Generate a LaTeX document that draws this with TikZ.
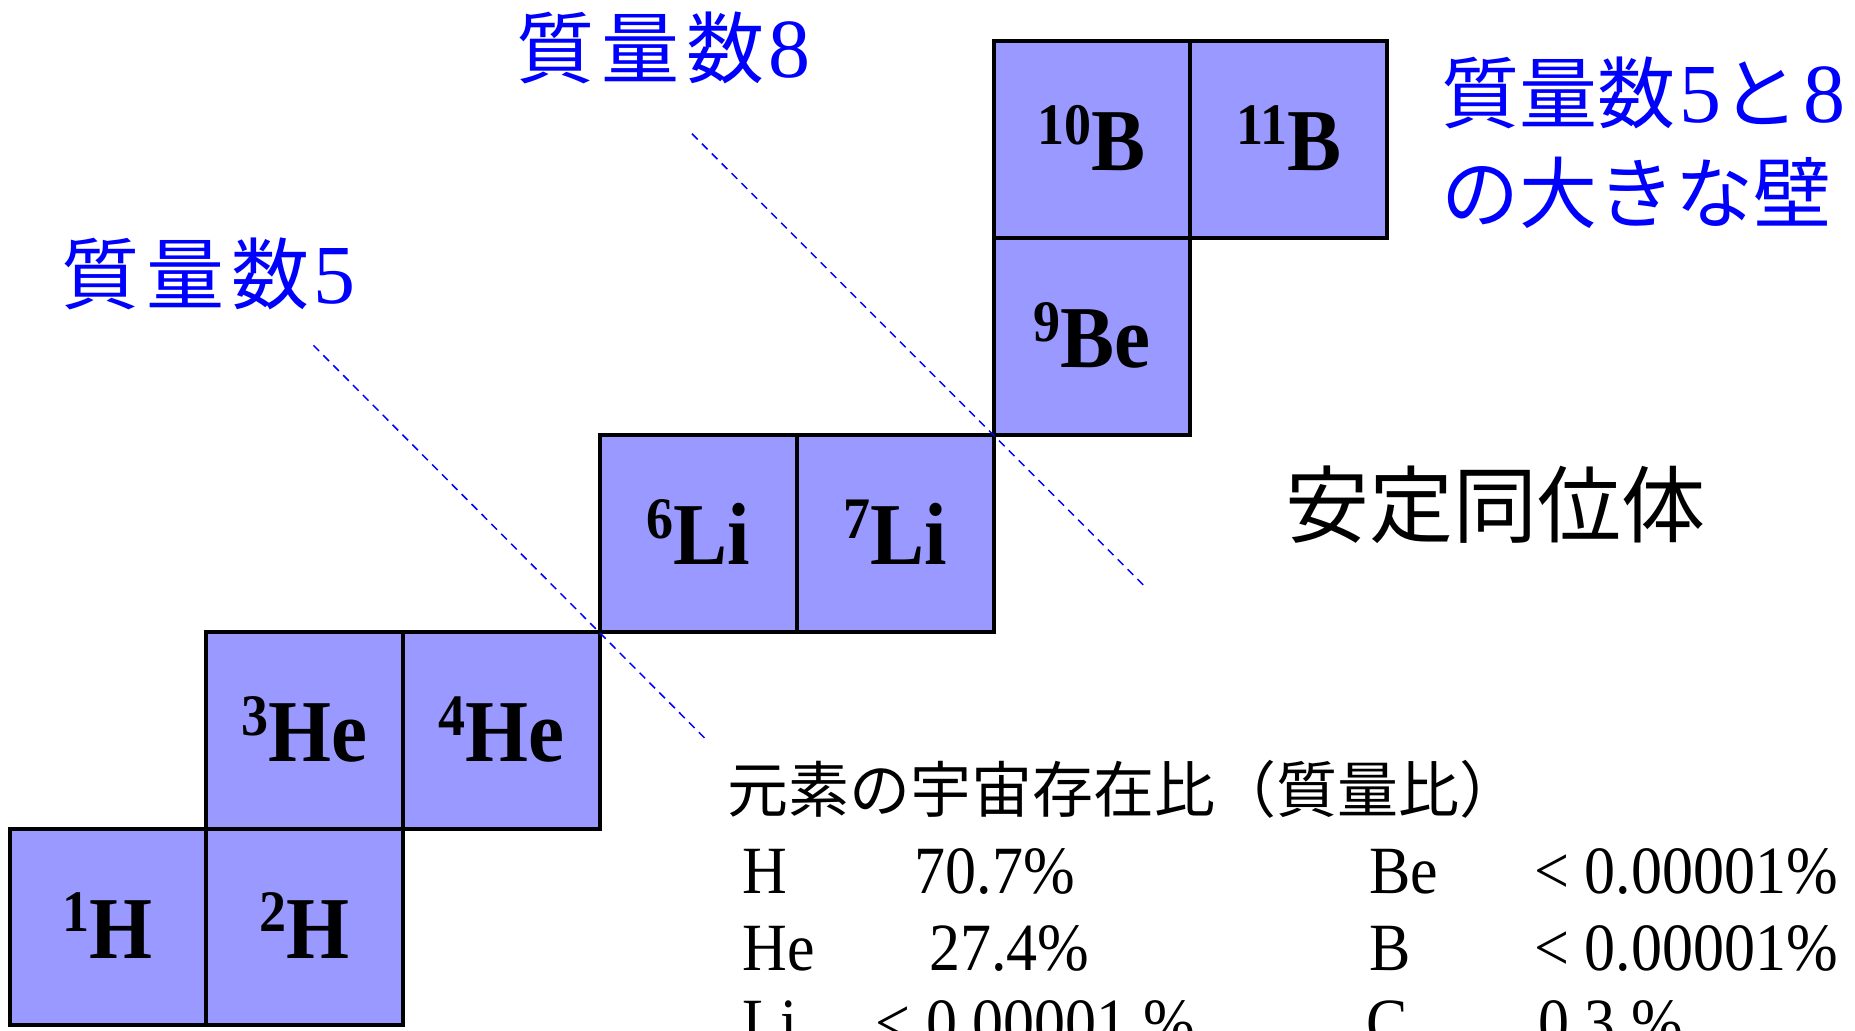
\documentclass[tikz,border=0pt]{standalone}
\usepackage{graphicx}
\usepackage{fontspec}
\setmainfont{Liberation Serif}
\newfontfamily\cjk{Noto Sans CJK JP}
\definecolor{cellfill}{HTML}{9999FF}
\newcommand\isolbl[2]{\scalebox{1}[1.09]{\raisebox{12pt}{\fontsize{27}{27}\selectfont #1}#2}}
\newcommand\tallt[1]{\scalebox{1}[1.09]{#1}}
\newcommand\serdig[1]{\kern2pt{\rmfamily\fontsize{42}{42}\selectfont #1}}
\tikzset{
  cell/.style={draw=black, line width=2pt, fill=cellfill, minimum width=98.4pt,
    minimum height=98.4pt, inner sep=0pt, outer sep=0pt},
  iso/.style={anchor=base, inner sep=0pt, font=\bfseries\fontsize{40.5}{40.5}\selectfont},
  wall/.style={draw=blue, line width=0.75pt, dash pattern=on 4pt off 3pt},
  bluetxt/.style={anchor=base west, inner sep=0pt, text=blue, font=\cjk\fontsize{39}{39}\selectfont},
  blacktxt/.style={anchor=base west, inner sep=0pt, text=black, font=\cjk\fontsize{42}{42}\selectfont},
  titletxt/.style={anchor=base west, inner sep=0pt, text=black, font=\cjk\fontsize{30.5}{30.5}\selectfont},
  tabtxt/.style={anchor=base west, inner sep=0pt, text=black, font=\fontsize{31}{31}\selectfont},
}
\begin{document}
\begin{tikzpicture}[x=0.5pt, y=-0.5pt]
\useasboundingbox (0,0) rectangle (1855,1030);
\begin{scope}
\clip (0,0) rectangle (1855,1030);
\fill[white] (0,0) rectangle (1855,1030);
% cells
\node[cell] (c1H)  at (107.9, 927.0) {};
\node[cell] (c2H)  at (304.7, 927.0) {};
\node[cell] (c3He) at (304.7, 730.2) {};
\node[cell] (c4He) at (501.5, 730.2) {};
\node[cell] (c6Li) at (698.3, 533.4) {};
\node[cell] (c7Li) at (895.1, 533.4) {};
\node[cell] (c9Be) at (1091.9, 336.6) {};
\node[cell] (c10B) at (1091.9, 139.8) {};
\node[cell] (c11B) at (1288.7, 139.8) {};
% labels
\node[iso] (l1H)  at ([yshift=-15.5pt]c1H.center)  {\isolbl{1}{H}};
\node[iso] (l2H)  at ([yshift=-15.5pt]c2H.center)  {\isolbl{2}{H}};
\node[iso] (l3He) at ([yshift=-15.5pt]c3He.center) {\isolbl{3}{He}};
\node[iso] (l4He) at ([yshift=-15.5pt]c4He.center) {\isolbl{4}{He}};
\node[iso] (l6Li) at ([yshift=-15.5pt]c6Li.center) {\isolbl{6}{Li}};
\node[iso] (l7Li) at ([yshift=-15.5pt]c7Li.center) {\isolbl{7}{Li}};
\node[iso] (l9Be) at ([yshift=-15.5pt]c9Be.center) {\isolbl{9}{Be}};
\node[iso] (l10B) at ([yshift=-15.5pt]c10B.center) {\isolbl{10}{B}};
\node[iso] (l11B) at ([yshift=-15.5pt]c11B.center) {\isolbl{11}{B}};
% walls
\coordinate (w5a) at (313.5, 345.4);
\coordinate (w5b) at (706, 739.4);
\coordinate (w8a) at (692, 133.7);
\coordinate (w8b) at (1144, 585.6);
\draw[wall] (w5a) -- (w5b);
\draw[wall] (w8a) -- (w8b);
% blue labels
\node[bluetxt] (m8) at (516, 77) {質\kern3.5pt量\kern3.5pt数\serdig{8}};
\node[bluetxt] (m5) at (61, 303) {質\kern3.5pt量\kern3.5pt数\serdig{5}};
\node[bluetxt] (mw1) at (1441, 122) {質量数\serdig{5}と\serdig{8}};
\node[bluetxt] (mw2) at (1441, 222) {の大きな壁};
% stable isotopes
\node[blacktxt] (stable) at (1285, 536) {安定同位体};
% abundance table
\node[titletxt] (title) at (727, 812) {元素の宇宙存在比（質量比）};
\node[tabtxt] (tH)   at (742, 893)  {\tallt{H}};
\node[tabtxt] (vH)   at (914.5, 893) {\tallt{70.7\%}};
\node[tabtxt] (tHe)  at (742, 970)  {\tallt{He}};
\node[tabtxt] (vHe)  at (929, 970)  {\tallt{27.4\%}};
\node[tabtxt] (tLi)  at (742, 1045) {\tallt{Li}};
\node[tabtxt] (vLi)  at (875.5, 1045) {\tallt{< 0.00001 \%}};
\node[tabtxt] (tBe)  at (1369, 893) {\tallt{Be}};
\node[tabtxt] (vBe)  at (1534, 893) {\tallt{< 0.00001\%}};
\node[tabtxt] (tB)   at (1369, 970) {\tallt{B}};
\node[tabtxt] (vB)   at (1534, 970) {\tallt{< 0.00001\%}};
\node[tabtxt] (tC)   at (1366, 1045) {\tallt{C}};
\node[tabtxt] (vC)   at (1538, 1045) {\tallt{0.3 \%}};
\end{scope}
\end{tikzpicture}
\end{document}
